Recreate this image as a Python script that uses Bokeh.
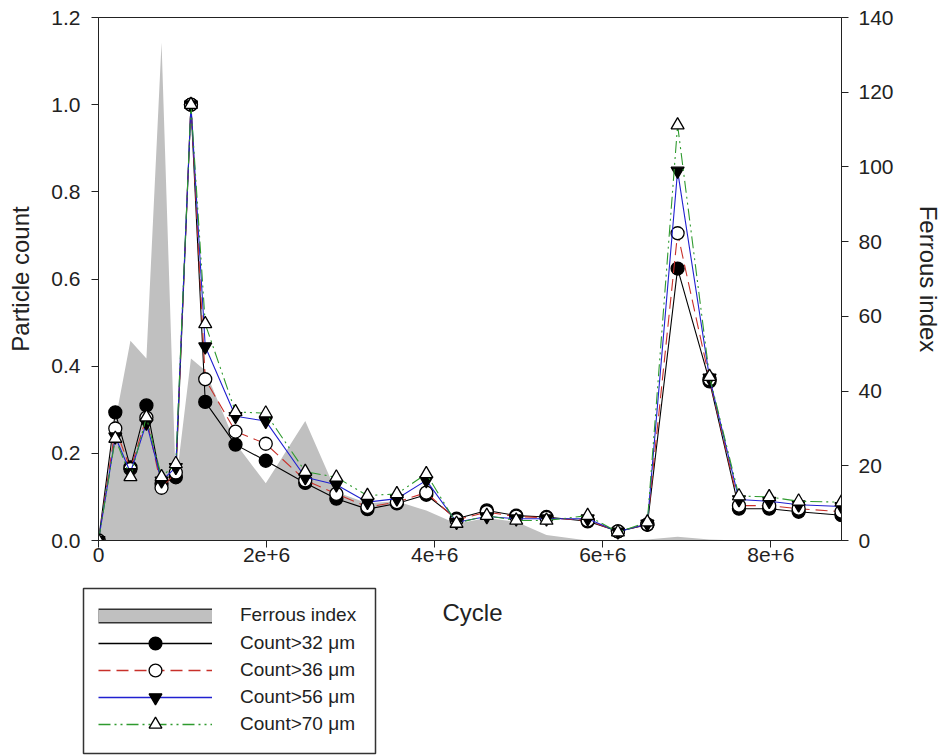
from bokeh.plotting import figure
from bokeh.layouts import column, row
from bokeh.models import (Range1d, LinearAxis, FixedTicker, PrintfTickFormatter,
                          Legend, LegendItem, ColumnDataSource, Label)
from bokeh.embed import file_html
from bokeh.resources import INLINE

# ---- data ----
cycle = [0, 0.2e6, 0.38e6, 0.57e6, 0.75e6, 0.92e6, 1.1e6, 1.27e6, 1.63e6, 1.99e6,
         2.46e6, 2.83e6, 3.2e6, 3.55e6, 3.9e6, 4.26e6, 4.62e6, 4.97e6, 5.33e6,
         5.82e6, 6.18e6, 6.53e6, 6.89e6, 7.27e6, 7.62e6, 7.98e6, 8.33e6, 8.84e6]

count_32 = [0, 0.294, 0.168, 0.310, 0.130, 0.145, 1.0, 0.318, 0.220, 0.183, 0.132, 0.096,
            0.072, 0.085, 0.105, 0.050, 0.069, 0.057, 0.054, 0.044, 0.021, 0.036, 0.624,
            0.365, 0.073, 0.073, 0.066, 0.058]
count_36 = [0, 0.257, 0.164, 0.282, 0.121, 0.156, 1.0, 0.370, 0.250, 0.222, 0.138, 0.107,
            0.077, 0.088, 0.110, 0.047, 0.065, 0.055, 0.052, 0.046, 0.021, 0.037, 0.705,
            0.370, 0.080, 0.080, 0.073, 0.066]
count_56 = [0, 0.238, 0.156, 0.270, 0.137, 0.168, 1.0, 0.445, 0.285, 0.274, 0.145, 0.128,
            0.088, 0.096, 0.138, 0.042, 0.055, 0.050, 0.050, 0.050, 0.020, 0.038, 0.848,
            0.373, 0.094, 0.090, 0.082, 0.078]
count_70 = [0, 0.234, 0.146, 0.283, 0.146, 0.176, 1.0, 0.497, 0.295, 0.292, 0.158, 0.145,
            0.103, 0.107, 0.153, 0.039, 0.057, 0.046, 0.046, 0.057, 0.019, 0.042, 0.953,
            0.376, 0.102, 0.100, 0.090, 0.088]

ferrous_cycle = cycle
ferrous_index = [0, 32, 53.5, 48.7, 133.3, 15, 48.7, 45.5, 26, 15.3, 32, 13, 10, 10.5,
                 8, 4.5, 6, 5, 1.5, 0, 0, 0.3, 1.0, 0.3, 0, 0, 0, 0]

x_ticks = [0, 2e6, 4e6, 6e6, 8e6]
x_tick_labels = ["0", "2e+6", "4e+6", "6e+6", "8e+6"]
left_ticks = [0, 0.2, 0.4, 0.6, 0.8, 1.0, 1.2]
right_ticks = [0, 20, 40, 60, 80, 100, 120, 140]

series_names = ["Count>32 μm", "Count>36 μm", "Count>56 μm", "Count>70 μm"]

# ---- styling ----
FONT = "Liberation Sans"
TXT = "#222222"
AREA = "#c0c0c0"

styles = [
    dict(color="black", dash="solid", marker="circle", fill="black"),
    dict(color="#c8302a", dash="12 6", marker="circle", fill="white"),
    dict(color="#2020d0", dash="solid", marker="inverted_triangle", fill="black"),
    dict(color="#2e9a2e", dash="12 4 2 4 2 4", marker="triangle", fill="white"),
]
all_series = [count_32, count_36, count_56, count_70]

# ---------------- main plot ----------------
p = figure(width=944, height=580, output_backend="svg", toolbar_location=None,
           x_range=Range1d(0, 8.84e6), y_range=Range1d(0, 1.2),
           min_border_left=98, min_border_right=99, min_border_top=17,
           min_border_bottom=40)
p.background_fill_color = "white"
p.border_fill_color = "white"
p.outline_line_color = "#222222"
p.outline_line_width = 1
p.xgrid.visible = False
p.ygrid.visible = False

p.extra_y_ranges = {"fe": Range1d(0, 140)}
right_axis = LinearAxis(y_range_name="fe")
p.add_layout(right_axis, "right")

p.varea(x=ferrous_cycle, y1=[0] * len(ferrous_index), y2=ferrous_index,
        y_range_name="fe", fill_color=AREA)

for vals, st in zip(all_series, styles):
    src = ColumnDataSource(dict(x=cycle, y=vals))
    p.line("x", "y", source=src, line_color=st["color"], line_dash=st["dash"],
           line_width=1.1)
    p.scatter("x", "y", source=src, marker=st["marker"], size=13,
              fill_color=st["fill"], line_color="black", line_width=1.3)

for ax in [p.xaxis[0], p.yaxis[0], right_axis]:
    ax.axis_line_color = "#222222"
    ax.major_tick_line_color = "#222222"
    ax.minor_tick_line_color = None
    ax.major_tick_in = 0
    ax.major_tick_out = 7
    ax.major_label_text_font = FONT
    ax.major_label_text_font_size = "21px"
    ax.major_label_text_color = TXT
    ax.axis_label_text_font = FONT
    ax.axis_label_text_font_size = "24px"
    ax.axis_label_text_font_style = "normal"
    ax.axis_label_text_color = TXT

p.xaxis[0].ticker = FixedTicker(ticks=x_ticks)
p.xaxis[0].major_label_overrides = {t: l for t, l in zip(x_ticks, x_tick_labels)}
p.xaxis[0].major_label_standoff = 0

p.yaxis[0].ticker = FixedTicker(ticks=left_ticks)
p.yaxis[0].formatter = PrintfTickFormatter(format="%.1f")
p.yaxis[0].axis_label = "Particle count"
p.yaxis[0].major_label_standoff = 11
p.yaxis[0].axis_label_standoff = 14

right_axis.ticker = FixedTicker(ticks=right_ticks)
right_axis.axis_label = "Ferrous index"
right_axis.major_label_standoff = 10
right_axis.axis_label_standoff = 18

# ---------------- legend panel (its frame outline is the legend box) ----------------
LG_W = 400
lg = figure(width=LG_W, height=176, output_backend="svg", toolbar_location=None,
            x_range=Range1d(0, 1), y_range=Range1d(0, 1),
            x_axis_location=None, y_axis_location=None,
            min_border_left=83, min_border_right=25, min_border_top=8,
            min_border_bottom=3)
lg.outline_line_color = "#333333"
lg.outline_line_width = 1.5
lg.grid.visible = False
lg.border_fill_color = "white"
lg.background_fill_color = "white"

common = dict(orientation="vertical", glyph_width=114, label_standoff=28,
              padding=0, margin=0, spacing=0, label_text_font=FONT,
              label_text_font_size="19px", label_text_color=TXT,
              background_fill_alpha=0.0, border_line_color=None)

# legend-only proxies, placed outside the visible range
dq_b = lg.line(x=[-10, -9], y=[-10, -10], line_color="#333333", line_width=15,
               line_cap="butt")
dq_f = lg.line(x=[-10, -9], y=[-10, -10], line_color=AREA, line_width=12,
               line_cap="butt")
lg.add_layout(Legend(items=[LegendItem(label="Ferrous index", renderers=[dq_b, dq_f])],
                     location=(15, 127), glyph_height=21, label_height=21, **common))

row_bottoms = [94, 67, 40, 13]
for name, st, yb in zip(series_names, styles, row_bottoms):
    src = ColumnDataSource(dict(x=[-10, -9], y=[-10, -10]))
    ln = lg.line("x", "y", source=src, line_color=st["color"], line_dash=st["dash"],
                 line_width=1.3)
    sc = lg.scatter("x", "y", source=src, marker=st["marker"], size=13,
                    fill_color=st["fill"], line_color="black", line_width=1.3)
    lg.add_layout(Legend(items=[LegendItem(label=name, renderers=[ln, sc])],
                         location=(15, yb), glyph_height=32, label_height=21,
                         **common))

# ---------------- x-axis title panel ----------------
xt = figure(width=944 - LG_W, height=176, output_backend="svg", toolbar_location=None,
            x_range=Range1d(0, 1), y_range=Range1d(0, 1),
            x_axis_location=None, y_axis_location=None, min_border=0)
xt.outline_line_color = None
xt.grid.visible = False
xt.border_fill_color = "white"
xt.add_layout(Label(x=472 - LG_W, y=141, x_units="screen", y_units="screen",
                    text="Cycle", text_align="center", text_baseline="middle",
                    text_font=FONT, text_font_size="24px", text_color=TXT))

layout = column(p, row(lg, xt, spacing=0), spacing=0)

open("out.html", "w").write(file_html(layout, INLINE))
